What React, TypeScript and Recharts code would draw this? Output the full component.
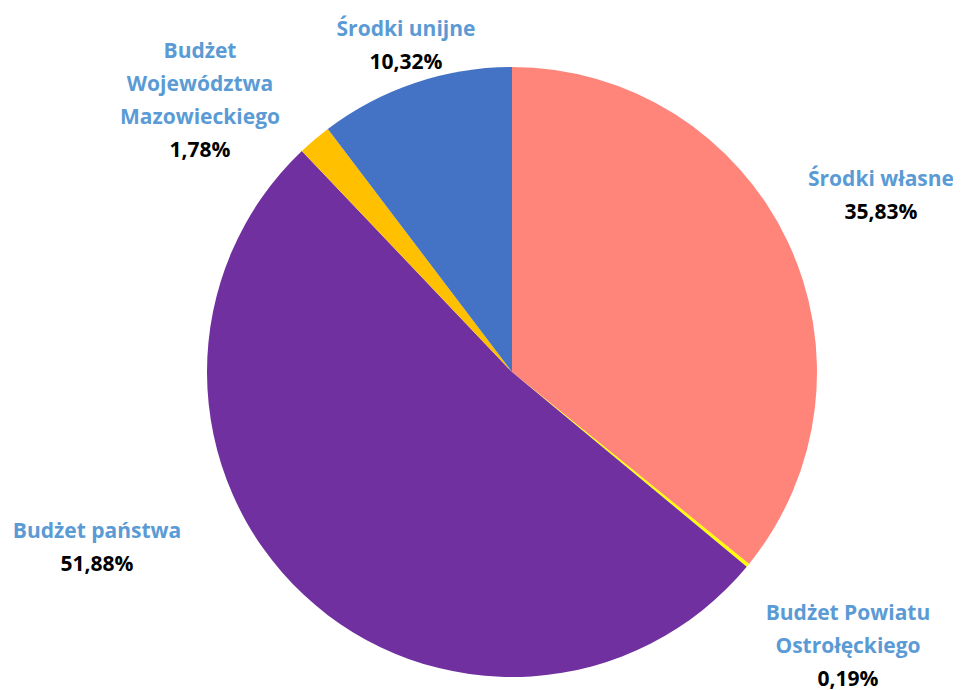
import React from 'react';
import { PieChart, Pie, Cell } from 'recharts';

const names = [
    'Środki własne',
    'Budżet Powiatu Ostrołęckiego',
    'Budżet państwa',
    'Budżet Województwa Mazowieckiego',
    'Środki unijne',
];
const shares = [35.83, 0.19, 51.88, 1.78, 10.32];
const pctLabels = ['35,83%', '0,19%', '51,88%', '1,78%', '10,32%'];

// label text lines (Excel wraps these)
const nameLines = [
    ['Środki własne'],
    ['Budżet Powiatu', 'Ostrołęckiego'],
    ['Budżet państwa'],
    ['Budżet', 'Województwa', 'Mazowieckiego'],
    ['Środki unijne'],
];

const colors = ['#FF857A', '#FFFF00', '#7030A0', '#FFC000', '#4472C4'];

// where each label block sits, relative to the pie centre
const labelOffsets: [number, number][] = [
    [369, -178],
    [336, 273],
    [-415, 174],
    [-312, -273],
    [-106, -328],
];

const data = names.map((name, i) => ({ name, value: shares[i] }));

const LINE_H = 33;
const FONT = "'Open Sans', 'Noto Sans', sans-serif";
const FS = 21;

const renderLabel = (props: any) => {
    const { cx, cy, index } = props;
    const [ox, oy] = labelOffsets[index];
    const lines = nameLines[index];
    const total = lines.length + 1;
    const top = cy + oy - ((total - 1) * LINE_H) / 2;
    return (
        <g>
            {lines.map((ln, k) => (
                <text
                    key={k}
                    x={cx + ox}
                    y={top + k * LINE_H}
                    textAnchor="middle"
                    dominantBaseline="central"
                    fill="#5B9BD5"
                    fontSize={FS}
                    fontWeight="bold"
                    fontFamily={FONT}
                >
                    {ln}
                </text>
            ))}
            <text
                x={cx + ox}
                y={top + lines.length * LINE_H}
                textAnchor="middle"
                dominantBaseline="central"
                fill="#000000"
                fontSize={FS}
                fontWeight="bold"
                fontFamily={FONT}
            >
                {pctLabels[index]}
            </text>
        </g>
    );
};

export default function App() {
    return (
        <div style={{ width: 953, height: 682, background: '#fff' }}>
            <PieChart width={953} height={682} margin={{ top: 0, right: 0, bottom: 0, left: 0 }}>
                <Pie
                    data={data}
                    dataKey="value"
                    nameKey="name"
                    cx={504}
                    cy={364}
                    outerRadius={305}
                    startAngle={90}
                    endAngle={-270}
                    stroke="none"
                    label={renderLabel}
                    labelLine={false}
                    isAnimationActive={false}
                >
                    {data.map((d, i) => (
                        <Cell key={d.name} fill={colors[i]} />
                    ))}
                </Pie>
            </PieChart>
        </div>
    );
}
